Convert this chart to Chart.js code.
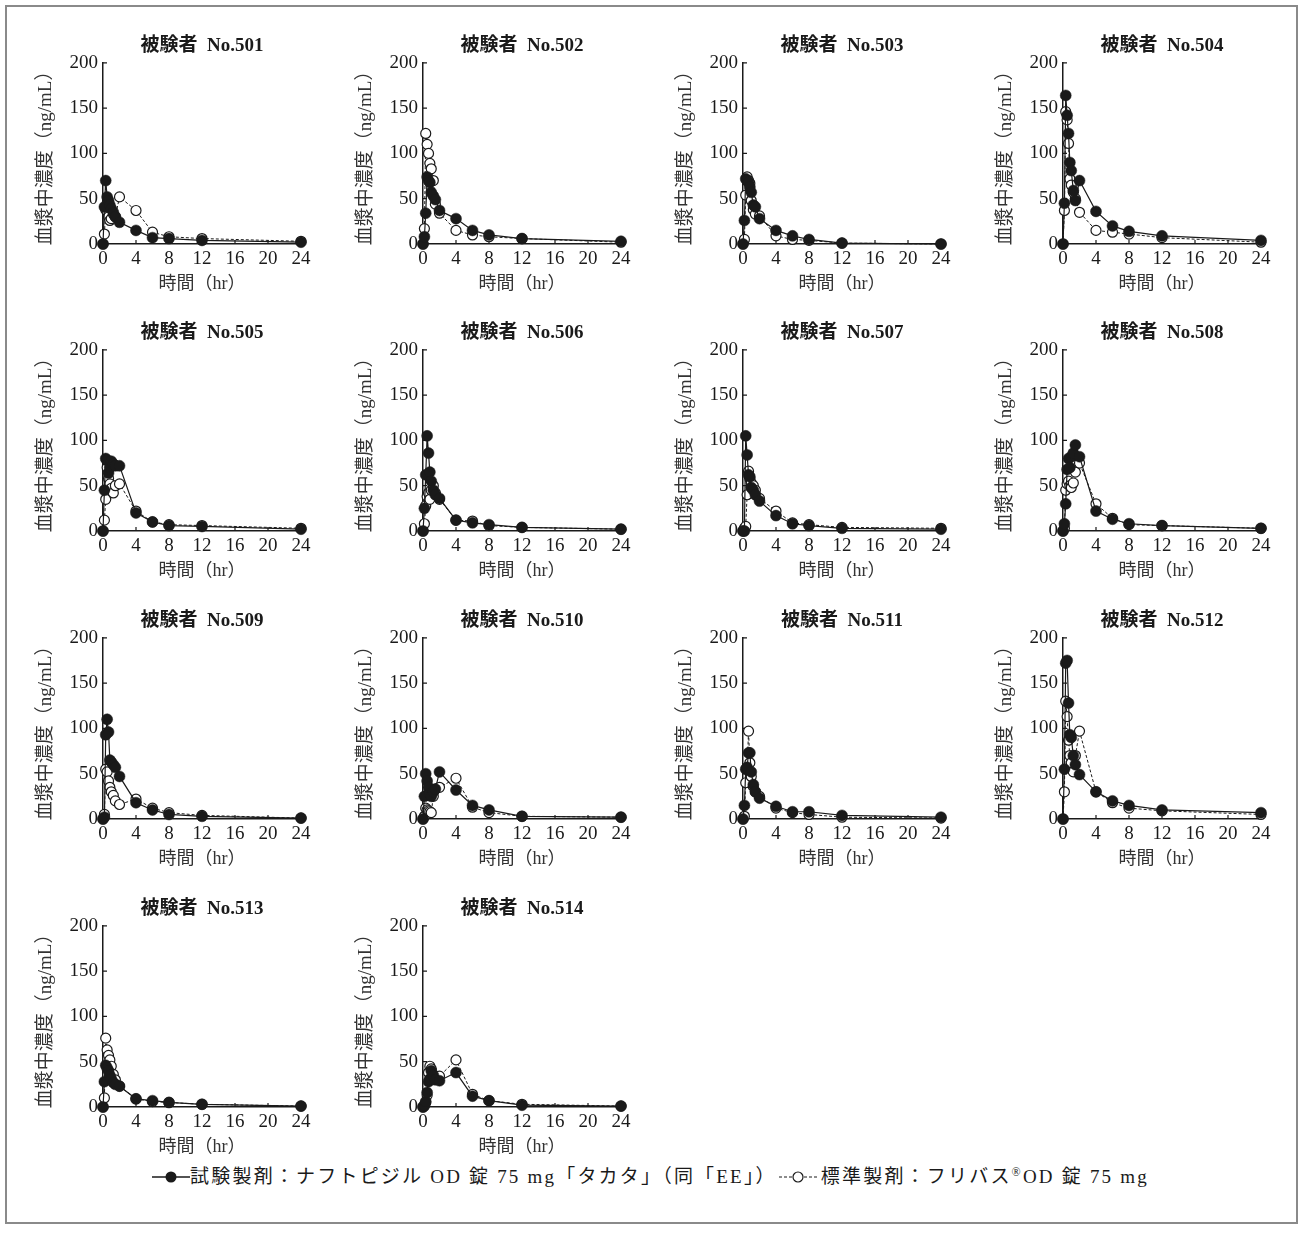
<!DOCTYPE html>
<html lang="ja">
<head>
<meta charset="utf-8">
<script src="https://cdn.jsdelivr.net/npm/chart.js@4/dist/chart.umd.min.js"></script>
<style>
  body { margin: 0; background: #fff; }
  #frame {
    position: absolute; left: 5px; top: 5px; width: 1289px; height: 1215px;
    border: 2px solid #8a8a8a;
  }
  canvas.panel { position: absolute; }
  #legend {
    position: absolute; left: 0; width: 1301px; top: 1161px; text-align: center;
    font-family: "Liberation Serif", "Noto Sans CJK JP", serif; font-size: 19px; color: #1a1a1a;
    white-space: nowrap;
  }
  #legend span { letter-spacing: 2.2px; }
  #legend svg { vertical-align: -1px; }
</style>
</head>
<body>
<div id="frame"></div>
<div id="legend">
  <svg width="38" height="14"><line x1="0" y1="7" x2="38" y2="7" stroke="#1a1a1a" stroke-width="1.3"/><circle cx="19" cy="7" r="5.5" fill="#1a1a1a"/></svg><span>試験製剤：ナフトピジル OD 錠 75 mg「タカタ」（同「EE」）</span><svg width="38" height="14" style="margin-left:2px;margin-right:4px"><line x1="0" y1="7" x2="38" y2="7" stroke="#1a1a1a" stroke-width="1" stroke-dasharray="3,2"/><circle cx="19" cy="7" r="5" fill="#fff" stroke="#1a1a1a" stroke-width="1.2"/></svg><span>標準製剤：フリバス<sup style="font-size:12px">®</sup>OD 錠 75 mg</span>
</div>
<script>
// sampling times (hr)
const times = [0, 0.17, 0.33, 0.5, 0.67, 0.83, 1, 1.25, 1.5, 2, 4, 6, 8, 12, 24];

// plasma concentration (ng/mL), test = 試験製剤, ref = 標準製剤
const test501 = [0, 41, 70, 52, 48, 43, 39, 35, 30, 24, 15, 7, 6, 4, 2];
const ref501  = [0, 11, 38, 36, 30, 26, 28, 33, 30, 52, 37, 13, 8, 6, 3];
const test502 = [0, 8, 34, 74, 70, 68, 57, 53, 49, 37, 28, 15, 10, 6, 3];
const ref502  = [0, 17, 122, 110, 100, 89, 83, 70, 44, 34, 15, 10, 8, 6, 2];
const test503 = [0, 26, 72, 70, 68, 63, 57, 43, 41, 28, 15, 9, 5, 1, 0];
const ref503  = [0, 5, 54, 74, 70, 67, 48, 38, 33, 31, 9, 5, 4, 1, 0];
const test504 = [0, 45, 164, 142, 122, 90, 81, 59, 48, 70, 36, 20, 14, 9, 4];
const ref504  = [0, 37, 146, 137, 111, 72, 65, 57, 50, 35, 15, 13, 11, 7, 2];
const test505 = [0, 45, 80, 78, 64, 70, 77, 74, 72, 72, 20, 10, 6, 5, 2];
const ref505  = [0, 12, 35, 70, 58, 52, 47, 42, 50, 52, 22, 10, 7, 6, 3];
const test506 = [0, 25, 62, 105, 86, 65, 55, 45, 40, 36, 12, 9, 7, 4, 2];
const ref506  = [0, 8, 28, 38, 42, 35, 45, 50, 42, 35, 12, 11, 6, 4, 2];
const test507 = [0, 0, 105, 84, 62, 60, 48, 45, 40, 33, 17, 8, 6, 3, 2];
const ref507  = [0, 3, 5, 40, 66, 58, 53, 50, 45, 36, 22, 9, 7, 4, 3];
const test508 = [0, 8, 30, 68, 80, 70, 82, 86, 95, 82, 22, 13, 8, 6, 3];
const ref508  = [0, 3, 45, 52, 55, 50, 48, 53, 65, 75, 30, 14, 7, 6, 3];
const test509 = [0, 2, 93, 110, 96, 65, 63, 60, 57, 47, 18, 10, 5, 3, 1];
const ref509  = [0, 5, 55, 52, 42, 35, 30, 26, 20, 16, 22, 12, 7, 4, 1];
const test510 = [0, 25, 50, 42, 35, 28, 25, 30, 33, 52, 32, 15, 10, 3, 2];
const ref510  = [0, 3, 12, 10, 9, 8, 7, 25, 33, 35, 45, 13, 7, 3, 2];
const test511 = [0, 15, 55, 57, 73, 73, 52, 38, 30, 23, 14, 8, 8, 4, 2];
const ref511  = [0, 3, 40, 55, 97, 62, 47, 36, 30, 25, 12, 7, 5, 2, 1];
const test512 = [0, 55, 172, 175, 128, 93, 90, 70, 60, 49, 30, 20, 15, 10, 7];
const ref512  = [0, 30, 130, 113, 87, 70, 62, 52, 70, 97, 30, 18, 12, 9, 5];
const test513 = [0, 28, 46, 43, 40, 35, 31, 27, 25, 23, 9, 7, 5, 3, 1];
const ref513  = [0, 10, 76, 63, 57, 52, 45, 36, 30, 23, 9, 6, 5, 3, 1];
const test514 = [0, 2, 6, 16, 28, 31, 40, 35, 30, 29, 38, 12, 7, 2, 1];
const ref514  = [0, 1, 5, 13, 38, 45, 42, 35, 34, 34, 52, 14, 7, 3, 1];

const panels = [
  ['501', test501, ref501], ['502', test502, ref502], ['503', test503, ref503], ['504', test504, ref504],
  ['505', test505, ref505], ['506', test506, ref506], ['507', test507, ref507], ['508', test508, ref508],
  ['509', test509, ref509], ['510', test510, ref510], ['511', test511, ref511], ['512', test512, ref512],
  ['513', test513, ref513], ['514', test514, ref514]
];

const xTicks = [0, 4, 8, 12, 16, 20, 24];
const yTicks = [0, 50, 100, 150, 200];

const INK = '#1a1a1a';
const SERIF = '"Liberation Serif", "Noto Sans CJK JP", serif';

const colLeft = [18, 338, 658, 978];
const rowTop = [30, 317, 605, 893];

/**
 * Small tick marks drawn inside the plot area, like the printed figure.
 */
const innerTicks = {
  id: 'innerTicks',
  beforeDatasetsDraw(chart) {
    const {ctx, chartArea, scales} = chart;
    ctx.save();
    ctx.strokeStyle = INK;
    ctx.lineWidth = 1.2;
    ctx.beginPath();
    xTicks.slice(1).forEach(v => {
      const px = scales.x.getPixelForValue(v);
      ctx.moveTo(px, chartArea.bottom);
      ctx.lineTo(px, chartArea.bottom - 4);
    });
    yTicks.slice(1).forEach(v => {
      const py = scales.y.getPixelForValue(v);
      ctx.moveTo(chartArea.left, py);
      ctx.lineTo(chartArea.left + 4, py);
    });
    ctx.stroke();
    ctx.restore();
  }
};

function toPoints(values) {
  return times.map((t, i) => ({x: t, y: values[i]}));
}

panels.forEach(([id, testValues, refValues], i) => {
  const canvas = document.createElement('canvas');
  canvas.className = 'panel';
  canvas.width = 297;
  canvas.height = 267;
  canvas.style.left = colLeft[i % 4] + 'px';
  canvas.style.top = rowTop[Math.floor(i / 4)] + 'px';
  document.body.appendChild(canvas);

  new Chart(canvas, {
    type: 'scatter',
    data: {
      datasets: [{
        label: '試験製剤',
        data: toPoints(testValues),
        showLine: true,
        borderColor: INK,
        borderWidth: 1.2,
        backgroundColor: INK,
        pointBackgroundColor: INK,
        pointBorderColor: INK,
        pointRadius: 5.5,
        pointBorderWidth: 0.5,
        clip: false
      }, {
        label: '標準製剤',
        data: toPoints(refValues),
        showLine: true,
        borderColor: INK,
        borderWidth: 1,
        borderDash: [3, 2],
        backgroundColor: '#fff',
        pointBackgroundColor: '#fff',
        pointBorderColor: INK,
        pointRadius: 5,
        pointBorderWidth: 1.2,
        clip: false
      }]
    },
    options: {
      responsive: false,
      animation: false,
      events: [],
      layout: { padding: {top: 5, right: 14, bottom: 0, left: 0} },
      plugins: {
        legend: { display: false },
        tooltip: { enabled: false },
        title: {
          display: true,
          fullSize: false,
          text: '被験者  No.' + id,
          color: INK,
          font: { family: SERIF, size: 19, weight: 'bold', lineHeight: 1.2 },
          padding: {top: 0, bottom: 5}
        }
      },
      scales: {
        x: {
          type: 'linear',
          min: 0,
          max: 24,
          afterFit: scale => { scale.height = 53; },
          afterBuildTicks: scale => { scale.ticks = xTicks.map(v => ({value: v})); },
          grid: { display: false, drawTicks: false },
          border: { display: true, color: INK, width: 1.5 },
          ticks: { color: INK, padding: 4, font: { family: SERIF, size: 19 } },
          title: {
            display: true,
            text: '時間（hr）',
            color: '#333',
            font: { family: SERIF, size: 18 },
            padding: {top: 0, bottom: 2}
          }
        },
        y: {
          type: 'linear',
          min: 0,
          max: 200,
          afterFit: scale => { scale.width = 85; },
          afterBuildTicks: scale => { scale.ticks = yTicks.map(v => ({value: v})); },
          grid: { display: false, drawTicks: false },
          border: { display: true, color: INK, width: 1.5 },
          ticks: { color: INK, padding: 5, font: { family: SERIF, size: 19 } },
          title: {
            display: true,
            text: '血漿中濃度（ng/mL）',
            color: '#333',
            font: { family: SERIF, size: 19 },
            padding: {top: 17, bottom: 0}
          }
        }
      }
    },
    plugins: [innerTicks]
  });
});
</script>
</body>
</html>
